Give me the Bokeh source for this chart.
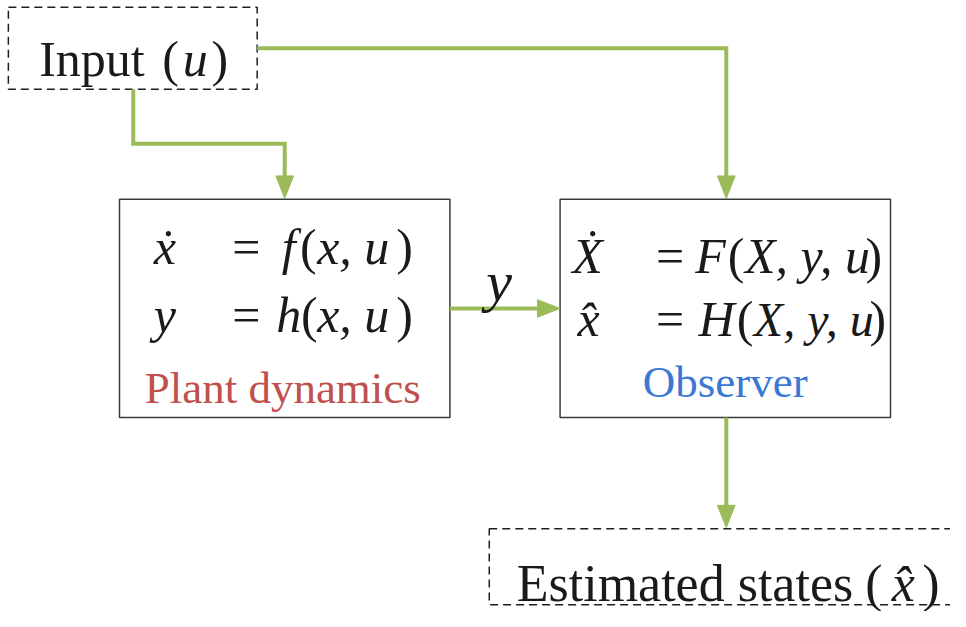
from bokeh.plotting import figure
from bokeh.models import Range1d
from bokeh.core.properties import value
from bokeh.embed import file_html
from bokeh.resources import INLINE

# ---------------- diagram content (canvas units = reference pixels) ----------------
box_names = ["Input", "Plant", "Observer", "Estimated"]
box_left = [8, 121, 569, 497]
box_right = [261, 457, 905, 985]
box_top = [7, 204, 204, 542]
box_bottom = [91, 428, 428, 620]
box_dashed = [True, False, False, True]

# arrow paths (last point = arrow tip)
path_names = ["u_to_observer", "u_to_plant", "y_to_observer", "observer_to_states"]
path_xs = [[261, 738, 738], [135, 135, 289, 289], [457, 569], [738, 738]]
path_ys = [[49, 49, 203], [91, 147, 147, 203], [316, 316], [428, 541]]

# text pieces
txt = ["Input", "(", "u", ")",
       "\u1e8b", "=", "f", "(", "x, u", ")",
       "y", "=", "h", "(", "x, u", ")",
       "\u1e8a", "=", "F", "(", "X, y, u", ")",
       "x\u0302", "=", "H", "(", "X, y, u", ")",
       "y",
       "Plant dynamics", "Observer",
       "Estimated states", "(", "x\u0302", ")"]
txt_x = [93, 173, 198, 223,
         167, 250, 293, 313, 322, 411,
         167, 250, 293, 314, 322, 411,
         597, 681, 722, 748, 757, 888,
         598, 681, 728, 757, 766, 892,
         507,
         287, 737,
         696, 888, 918, 946]
txt_y = [60, 60, 60, 60,
         253, 253, 253, 253, 253, 253,
         323, 323, 323, 323, 323, 323,
         262, 262, 262, 262, 262, 262,
         327, 327, 327, 327, 327, 327,
         288,
         398, 391,
         598, 598, 598, 598]
txt_size = [50, 50, 50, 50,
            50, 50, 50, 50, 50, 50,
            50, 50, 50, 50, 50, 50,
            50, 50, 50, 50, 50, 50,
            50, 50, 50, 50, 48, 50,
            58,
            45, 45,
            52, 52, 52, 52]
txt_style = ["normal", "normal", "italic", "normal",
             "italic", "normal", "italic", "normal", "italic", "normal",
             "italic", "normal", "italic", "normal", "italic", "normal",
             "italic", "normal", "italic", "normal", "italic", "normal",
             "italic", "normal", "italic", "normal", "italic", "normal",
             "italic",
             "normal", "normal",
             "normal", "normal", "italic", "normal"]
txt_align = ["center"] * 8 + ["left", "center"] + ["center"] * 4 + ["left", "center"] \
    + ["center"] * 4 + ["left", "center"] + ["center"] * 4 + ["left", "center"] \
    + ["center"] * 7
txt_color = ["#1a1a1a"] * 29 + ["#c0504d", "#3b78d3"] + ["#1a1a1a"] * 4

GREEN = "#9bbb59"
HEAD_LEN = 23
HEAD_W = 18

# ---------------- figure ----------------
p = figure(width=950, height=611, output_backend="svg", toolbar_location=None,
           x_range=Range1d(0, 966), y_range=Range1d(627, 0),
           min_border=0, background_fill_color="white",
           border_fill_color="white", outline_line_color=None)
p.axis.visible = False
p.grid.visible = False

# boxes
for i in range(len(box_names)):
    p.quad(left=[box_left[i]], right=[box_right[i]], top=[box_top[i]], bottom=[box_bottom[i]],
           fill_color="white", fill_alpha=0.0,
           line_color="#1e1e1e" if box_dashed[i] else "#3a3a3a",
           line_width=1.5, line_dash="8 5" if box_dashed[i] else "solid")

# arrows
for xs, ys in zip(path_xs, path_ys):
    tx, ty = xs[-1], ys[-1]
    px, py = xs[-2], ys[-2]
    dx, dy = tx - px, ty - py
    L = (dx * dx + dy * dy) ** 0.5
    ux, uy = dx / L, dy / L
    bx, by = tx - ux * HEAD_LEN, ty - uy * HEAD_LEN
    lx = list(xs[:-1]) + [bx + ux * 2]
    ly = list(ys[:-1]) + [by + uy * 2]
    p.line(lx, ly, line_color=GREEN, line_width=4, line_join="miter", line_cap="butt")
    nx, ny = -uy, ux
    p.patch([tx, bx + nx * HEAD_W / 2, bx - nx * HEAD_W / 2],
            [ty, by + ny * HEAD_W / 2, by - ny * HEAD_W / 2],
            fill_color=GREEN, line_color=GREEN, line_width=1)

# texts
for i in range(len(txt)):
    p.text(x=[txt_x[i]], y=[txt_y[i]], text=[txt[i]],
           text_font=value("Liberation Serif"), text_font_size=f"{txt_size[i]}px",
           text_font_style=txt_style[i], text_color=txt_color[i],
           text_align=txt_align[i], text_baseline="alphabetic")

open("out.html", "w").write(file_html(p, INLINE))
